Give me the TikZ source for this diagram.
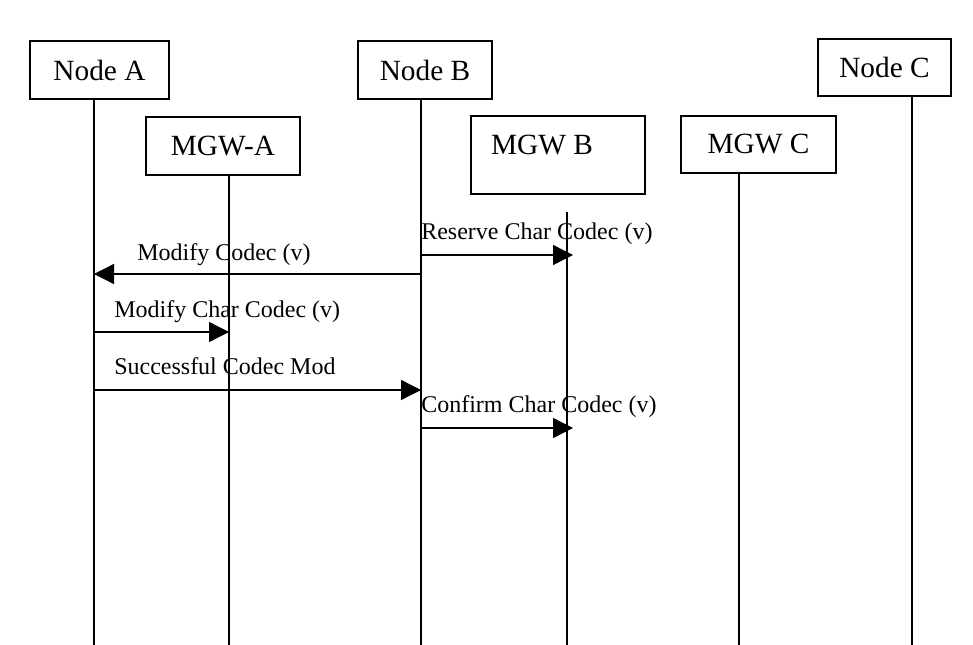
\documentclass[tikz,border=0pt]{standalone}
\usepackage{fontspec}
\setmainfont{Liberation Serif}
\usetikzlibrary{arrows.meta}
\begin{document}
\begin{tikzpicture}[x=0.75pt,y=-0.75pt,
  box/.style={draw,line width=1.1pt,inner sep=0pt,font=\fontsize{22}{24}\selectfont},
  life/.style={line width=1pt},
  msg/.style={line width=1pt,-{Triangle[length=15pt,width=15pt]}},
  lbl/.style={anchor=base west,inner sep=0pt,font=\fontsize{18}{20}\selectfont}]
\useasboundingbox (0,0) rectangle (973,645);
% boxes
\node[box,minimum width=104.25pt,minimum height=43.5pt] (nodeA) at (99.5,70) {Node A};
\node[box,minimum width=115.5pt,minimum height=43.5pt] (mgwA) at (223,146) {MGW-A};
\node[box,minimum width=100.5pt,minimum height=43.5pt] (nodeB) at (425,70) {Node B};
\node[box,minimum width=130.5pt,minimum height=58.5pt] (mgwB) at (558,155) {};
\node[anchor=base,inner sep=0pt,font=\fontsize{22}{24}\selectfont] (mgwBt) at (542,155) {MGW B};
\node[box,minimum width=116.25pt,minimum height=42.75pt] (mgwC) at (758.5,144.5) {MGW C};
\node[box,minimum width=99.75pt,minimum height=42.75pt] (nodeC) at (884.5,67.5) {Node C};
% lifeline ends
\coordinate (endA) at (94,645);
\coordinate (endMA) at (229,645);
\coordinate (endB) at (421,645);
\coordinate (startMB) at (567,212);
\coordinate (endMB) at (567,645);
\coordinate (endMC) at (739,645);
\coordinate (endC) at (912,645);
\draw[life] (endA |- nodeA.south) -- (endA);
\draw[life] (endMA |- mgwA.south) -- (endMA);
\draw[life] (endB |- nodeB.south) -- (endB);
\draw[life] (startMB) -- (endMB);
\draw[life] (endMC |- mgwC.south) -- (endMC);
\draw[life] (endC |- nodeC.south) -- (endC);
% message points
\coordinate (b1) at (421,255); \coordinate (mb1) at (573,255);
\coordinate (b2) at (421,274); \coordinate (a2) at (94,274);
\coordinate (a3) at (94,332); \coordinate (ma3) at (229,332);
\coordinate (a4) at (94,390); \coordinate (b4) at (421,390);
\coordinate (b5) at (421,428); \coordinate (mb5) at (573,428);
\draw[msg] (b1) -- (mb1);
\draw[msg] (b2) -- (a2);
\draw[msg] (a3) -- (ma3);
\draw[msg] (a4) -- (b4);
\draw[msg] (b5) -- (mb5);
% labels
\node[lbl] (l1) at (421,239) {Reserve Char Codec (v)};
\node[lbl] (l2) at (137,260) {Modify Codec (v)};
\node[lbl] (l3) at (114,317) {Modify Char Codec (v)};
\node[lbl] (l4) at (114,374) {Successful Codec Mod};
\node[lbl] (l5) at (421,412) {Confirm Char Codec (v)};
\end{tikzpicture}
\end{document}
